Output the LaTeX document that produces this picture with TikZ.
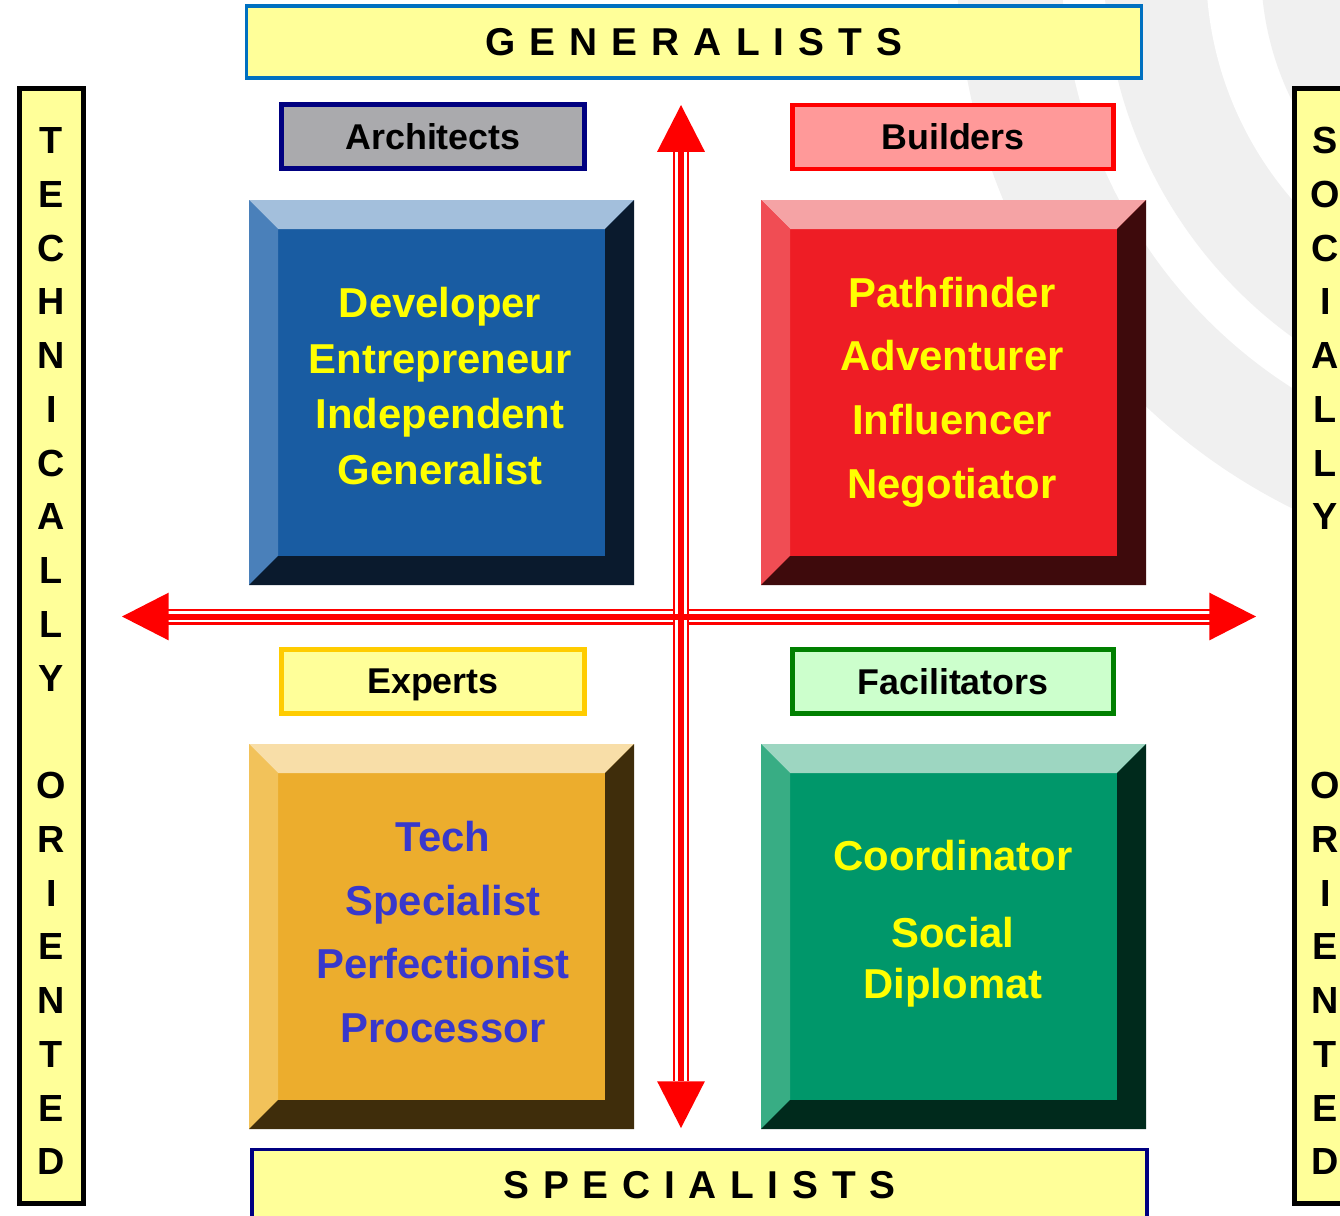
\documentclass[tikz,border=0pt]{standalone}
\usepackage{fontspec}
\setmainfont{Liberation Sans}
\usetikzlibrary{arrows.meta,positioning}

\definecolor{paleyellow}{HTML}{FFFF99}
\definecolor{swirlgrey}{HTML}{F0F0F0}
\definecolor{genblue}{HTML}{0070C0}
\definecolor{navy}{HTML}{000080}
\definecolor{archgrey}{HTML}{AAAAAD}
\definecolor{buildpink}{HTML}{FF9999}
\definecolor{expgold}{HTML}{FFCC00}
\definecolor{facilmint}{HTML}{CCFFCC}
\definecolor{facilgreen}{HTML}{008000}
\definecolor{axisred}{HTML}{FF0000}
\definecolor{roleyellow}{HTML}{FFFF00}
\definecolor{roleviolet}{HTML}{3838CC}
% bevel colours: face, light top, left side, shadow
\definecolor{blueface}{HTML}{195CA2}
\definecolor{bluetop}{HTML}{A3BFDC}
\definecolor{blueside}{HTML}{4A80BA}
\definecolor{blueshade}{HTML}{0A1A2D}
\definecolor{redface}{HTML}{EE1D25}
\definecolor{redtop}{HTML}{F5A3A5}
\definecolor{redside}{HTML}{F04D54}
\definecolor{redshade}{HTML}{3E0A0C}
\definecolor{orangeface}{HTML}{ECAD2D}
\definecolor{orangetop}{HTML}{F8DEA8}
\definecolor{orangeside}{HTML}{F2C25A}
\definecolor{orangeshade}{HTML}{3F2D0B}
\definecolor{greenface}{HTML}{00976A}
\definecolor{greentop}{HTML}{9DD6C1}
\definecolor{greenside}{HTML}{38AD84}
\definecolor{greenshade}{HTML}{002A1C}

\newcommand{\titlefont}{\fontsize{22.1pt}{26pt}\selectfont\bfseries}
\newcommand{\sidefont}{\fontsize{21.5pt}{26pt}\selectfont\bfseries}
\newcommand{\tagfont}{\fontsize{20.4pt}{24pt}\selectfont\bfseries}
\newcommand{\rolefont}[1]{\fontsize{23.8pt}{#1}\selectfont\bfseries}

\begin{document}
\begin{tikzpicture}[
  x=0.2mm,y=-0.2mm,
  titlebox/.style={draw=#1,line width=2pt,fill=paleyellow,inner sep=0pt,
    minimum width=179mm,minimum height=14.3mm,font=\titlefont},
  sidebar/.style={draw=black,line width=2.8pt,fill=paleyellow,inner sep=0pt,
    minimum width=12.8mm,minimum height=223mm},
  sideletter/.style={inner sep=0pt,font=\sidefont},
  tag/.style 2 args={draw=#1,fill=#2,line width=2.8pt,inner sep=0pt,
    text depth=0pt,minimum height=12.8mm,font=\tagfont},
  bevelsq/.style n args={4}{inner sep=0pt,minimum size=77mm,fill=#1,
    path picture={
      \path (path picture bounding box.north west) coordinate (bnw)
            (path picture bounding box.north east) coordinate (bne)
            (path picture bounding box.south west) coordinate (bsw)
            (path picture bounding box.south east) coordinate (bse);
      \fill[#2] (bnw) -- (bne) -- ([shift={(-5.8mm,-5.8mm)}]bne)
        -- ([shift={(5.8mm,-5.8mm)}]bnw) -- cycle;
      \fill[#3] (bnw) -- ([shift={(5.8mm,-5.8mm)}]bnw)
        -- ([shift={(5.8mm,5.8mm)}]bsw) -- (bsw) -- cycle;
      \fill[#4] (bne) -- (bse) -- (bsw) -- ([shift={(5.8mm,5.8mm)}]bsw)
        -- ([shift={(-5.8mm,5.8mm)}]bse) -- ([shift={(-5.8mm,-5.8mm)}]bne) -- cycle;
    }},
  roles/.style={align=center,inner sep=0pt,text=#1},
  axisshaft/.style={draw=axisred,line width=9.1pt,
    postaction={draw=white,line width=6.8pt},
    postaction={draw=axisred,line width=3.4pt}},
  axishead/.style={draw=axisred,line width=3.4pt,
    >={Triangle[length=26.6pt,width=27.2pt,line width=0pt]},<->},
]
  \useasboundingbox (0,0) rectangle (1340,1215);

  % Background swirl
  \coordinate (swirl) at (1560,-32);
  \foreach \r/\c in {603/swirlgrey,498/white,456/swirlgrey,354/white,299/swirlgrey}
    \fill[\c] (swirl) circle[radius=\r*0.2mm];

  % Top and bottom titles
  \node[titlebox=genblue] (Gen) at (694,42)
    {\spaceskip=8pt\relax G E N E R A L I S T S};
  \node[titlebox=navy] (Spec) at (699.5,1185)
    {\spaceskip=7.8pt\relax S P E C I A L I S T S};

  % Side bars, one letter per row
  \node[sidebar] (Tech) at (51.5,646) {};
  \node[sidebar] (Soc) at (1326.5,646) {};
  \foreach \ch [count=\k from 0] in {T,E,C,H,N,I,C,A,L,L,Y,{},O,R,I,E,N,T,E,D}
    \node[sideletter] (tl\k) at (51.5,140.5+53.76*\k) {\ch};
  \foreach \ch [count=\k from 0] in {S,O,C,I,A,L,L,Y,{},{},{},{},O,R,I,E,N,T,E,D}
    \node[sideletter] (sl\k) at (1325.5,140.5+53.76*\k) {\ch};

  % Quadrant tags
  \node[tag={navy}{archgrey},minimum width=60.6mm] (Arch) at (433,136.5) {Architects};
  \node[tag={axisred}{buildpink},minimum width=64.2mm] (Build) at (953,137) {Builders};
  \node[tag={expgold}{paleyellow},minimum width=60.6mm] (Expt) at (433,681.5) {Experts};
  \node[tag={facilgreen}{facilmint},minimum width=64.2mm] (Facil) at (953,681.5) {Facilitators};

  % Bevelled squares
  \node[bevelsq={blueface}{bluetop}{blueside}{blueshade}] (ArchSq) at (441.5,392.5) {};
  \node[bevelsq={redface}{redtop}{redside}{redshade}] (BuildSq) at (953.5,392.5) {};
  \node[bevelsq={orangeface}{orangetop}{orangeside}{orangeshade}] (ExptSq) at (441.5,936.5) {};
  \node[bevelsq={greenface}{greentop}{greenside}{greenshade}] (FacilSq) at (953.5,936.5) {};

  \node[roles=roleyellow,font={\rolefont{31.7pt}}] (ArchRoles) at (440,386)
    {Developer\\Entrepreneur\\Independent\\Generalist};
  \node[roles=roleyellow,font={\rolefont{36.3pt}}] (BuildRoles) at (952,392)
    {Pathfinder\\Adventurer\\Influencer\\Negotiator};
  \node[roles=roleviolet,font={\rolefont{36.3pt}}] (ExptRoles) at (443,932)
    {Tech\\Specialist\\Perfectionist\\Processor};
  \node[roles=roleyellow,font={\rolefont{28.9pt}}] (FacilRoles) at (953,923.5)
    {Coordinator\\[14.7pt]Social\\Diplomat};

  % Axes: triple-lined shafts, then the heads
  \coordinate (axW) at (122,616.5);
  \coordinate (axE) at (1256,616.5);
  \coordinate (axN) at (681,105);
  \coordinate (axS) at (681,1128);
  \coordinate (axWb) at (168,616.5);
  \coordinate (axEb) at (1210,616.5);
  \coordinate (axNb) at (681,152);
  \coordinate (axSb) at (681,1081);
  \draw[axisshaft] (axWb) -- (axEb);
  \draw[axisshaft] (axNb) -- (axSb);
  \draw[axishead] (axW) -- (axE);
  \draw[axishead] (axN) -- (axS);
\end{tikzpicture}
\end{document}
